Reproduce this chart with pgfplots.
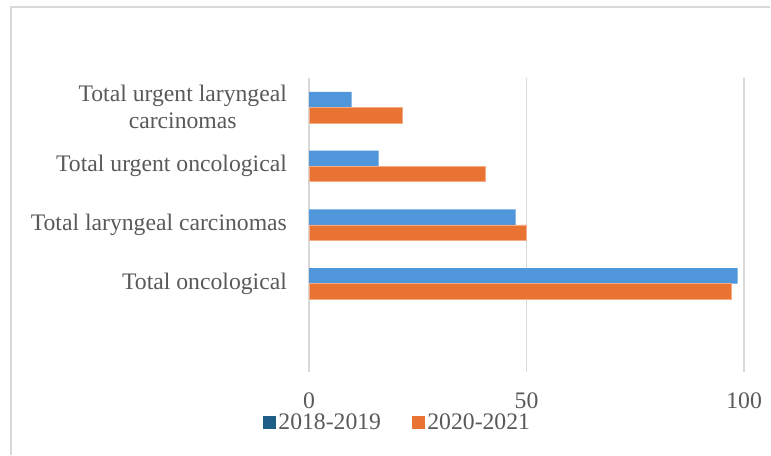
\documentclass[border=0pt]{standalone}
\usepackage{fontspec}
\setmainfont{Liberation Serif}
\usepackage{pgfplots}
\pgfplotsset{compat=1.18}
\definecolor{barblue}{RGB}{79,150,218}
\definecolor{barorange}{RGB}{233,115,51}
\definecolor{orangeedge}{RGB}{244,172,132}
\definecolor{legblue}{RGB}{31,94,134}
\definecolor{txtgray}{RGB}{89,89,89}
\definecolor{gridgray}{RGB}{217,217,217}
\newcommand{\chartfont}{\fontsize{23.7pt}{27pt}\selectfont}

\begin{document}
\begin{tikzpicture}
\begin{axis}[name=ax, scale only axis, width=435.4pt, height=294pt,
  xbar, bar width=15.5pt,
  xmin=0, xmax=100, ymin=-1.5, ymax=3.5,
  xtick={0,50,100}, ytick={0,1,2,3},
  yticklabels={Total oncological, Total laryngeal carcinomas,
    Total urgent oncological, {Total urgent laryngeal\\carcinomas}},
  xmajorgrids, grid style={gridgray, line width=1.8pt},
  axis line style={draw=none}, tick style={draw=none}, major tick length=0pt,
  tick label style={font=\chartfont, text=txtgray, inner sep=0pt},
  yticklabel style={anchor=east, align=center, xshift=-22pt},
  xticklabel style={anchor=center, yshift=-29pt},
  /pgf/number format/assume math mode=true,
  legend columns=2,
  legend style={at={(0.2045,-0.172)}, anchor=center, draw=none, fill=none,
    font=\chartfont, text=txtgray, inner sep=0pt,
    nodes={inner xsep=3.5pt, inner ysep=0pt},
    /tikz/every even column/.append style={column sep=27pt}},
]
\addlegendimage{legend image code/.code={\fill[legblue] (0pt,-6pt) rectangle (12pt,6pt);}}
\addlegendentry{2018-2019}
\addlegendimage{legend image code/.code={\fill[barorange] (0pt,-6pt) rectangle (12pt,6pt);}}
\addlegendentry{2020-2021}
% 2018-2019
\addplot[forget plot, xbar, bar shift=7.75pt, fill=barblue, draw=none]
  coordinates {(98.5,0) (47.5,1) (16.0,2) (9.8,3)};
% 2020-2021
\addplot[forget plot, xbar, bar shift=-7.75pt, fill=barorange, draw=orangeedge, line width=0.6pt]
  coordinates {(97.1,0) (50.0,1) (40.4,2) (21.5,3)};
\end{axis}
\path ([shift={(-309.3pt,-83pt)}]ax.south west) rectangle ++(771pt,455pt);
\draw[gridgray, line width=1.2pt] ([shift={(-298.3pt,-83pt)}]ax.south west)
  -- ++(0pt,448pt) -- ++(760pt,0pt);
\end{tikzpicture}
\end{document}
